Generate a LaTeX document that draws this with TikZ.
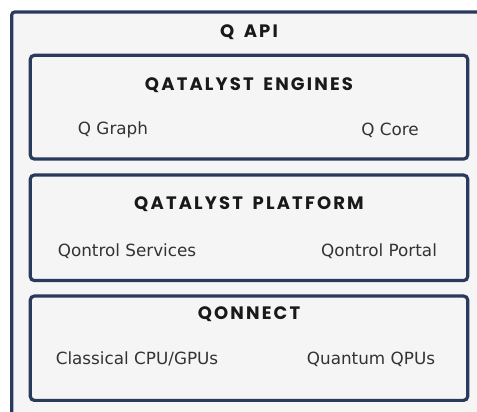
\documentclass[tikz,border=0pt]{standalone}
\usepackage{fontspec}
\setmainfont{DejaVu Sans}
\newfontfamily\headfont[LetterSpace=12,WordSpace=1.6]{Poppins}
\usetikzlibrary{positioning}
\definecolor{navy}{HTML}{2A3A5C}
\definecolor{panel}{HTML}{F5F5F5}
\tikzstyle{frame} = [
    rectangle,
    rounded corners=3pt,
    draw=navy,
    line width=3.2pt,
    fill=panel
]
\tikzstyle{layer} = [
    rectangle,
    rounded corners=4pt,
    draw=navy,
    line width=3.2pt,
    fill=panel,
    minimum width=437.4pt
]
\tikzstyle{heading} = [
    font=\headfont\bfseries\fontsize{18}{21}\selectfont,
    text=black!90
]
\tikzstyle{item} = [
    font=\fontsize{16.8}{20}\selectfont,
    text=black!80
]

\begin{document}
\begin{tikzpicture}[x=1pt, y=-1pt]
    \useasboundingbox (0,0) rectangle (477,412);
    \clip (0,0) rectangle (477,412);
    \fill[white] (0,0) rectangle (477,412);

    % Outer frame
    \node[frame, minimum width=500pt, minimum height=450pt] (api) at (261.7,237) {};
    \node[heading] (apititle) at (249,32) {Q API};

    % Engines
    \node[layer, minimum height=103.7pt] (engines) at (249,107.2) {};
    \node[heading] (enginestitle) at (249,85) {QATALYST ENGINES};
    \node[item] (graph) at (113,130) {Q Graph};
    \node[item] (core) at (390,130) {Q Core};

    % Platform
    \node[layer, minimum height=105.5pt] (platform) at (249,227.8) {};
    \node[heading] (platformtitle) at (249,204) {QATALYST PLATFORM};
    \node[item] (services) at (127,251) {Qontrol Services};
    \node[item] (portal) at (379,251) {Qontrol Portal};

    % Qonnect
    \node[layer, minimum height=104.3pt] (qonnect) at (249,348.2) {};
    \node[heading] (qonnecttitle) at (249,314) {QONNECT};
    \node[item] (classical) at (137,359) {Classical CPU/GPUs};
    \node[item] (quantum) at (371,359) {Quantum QPUs};
\end{tikzpicture}
\end{document}
